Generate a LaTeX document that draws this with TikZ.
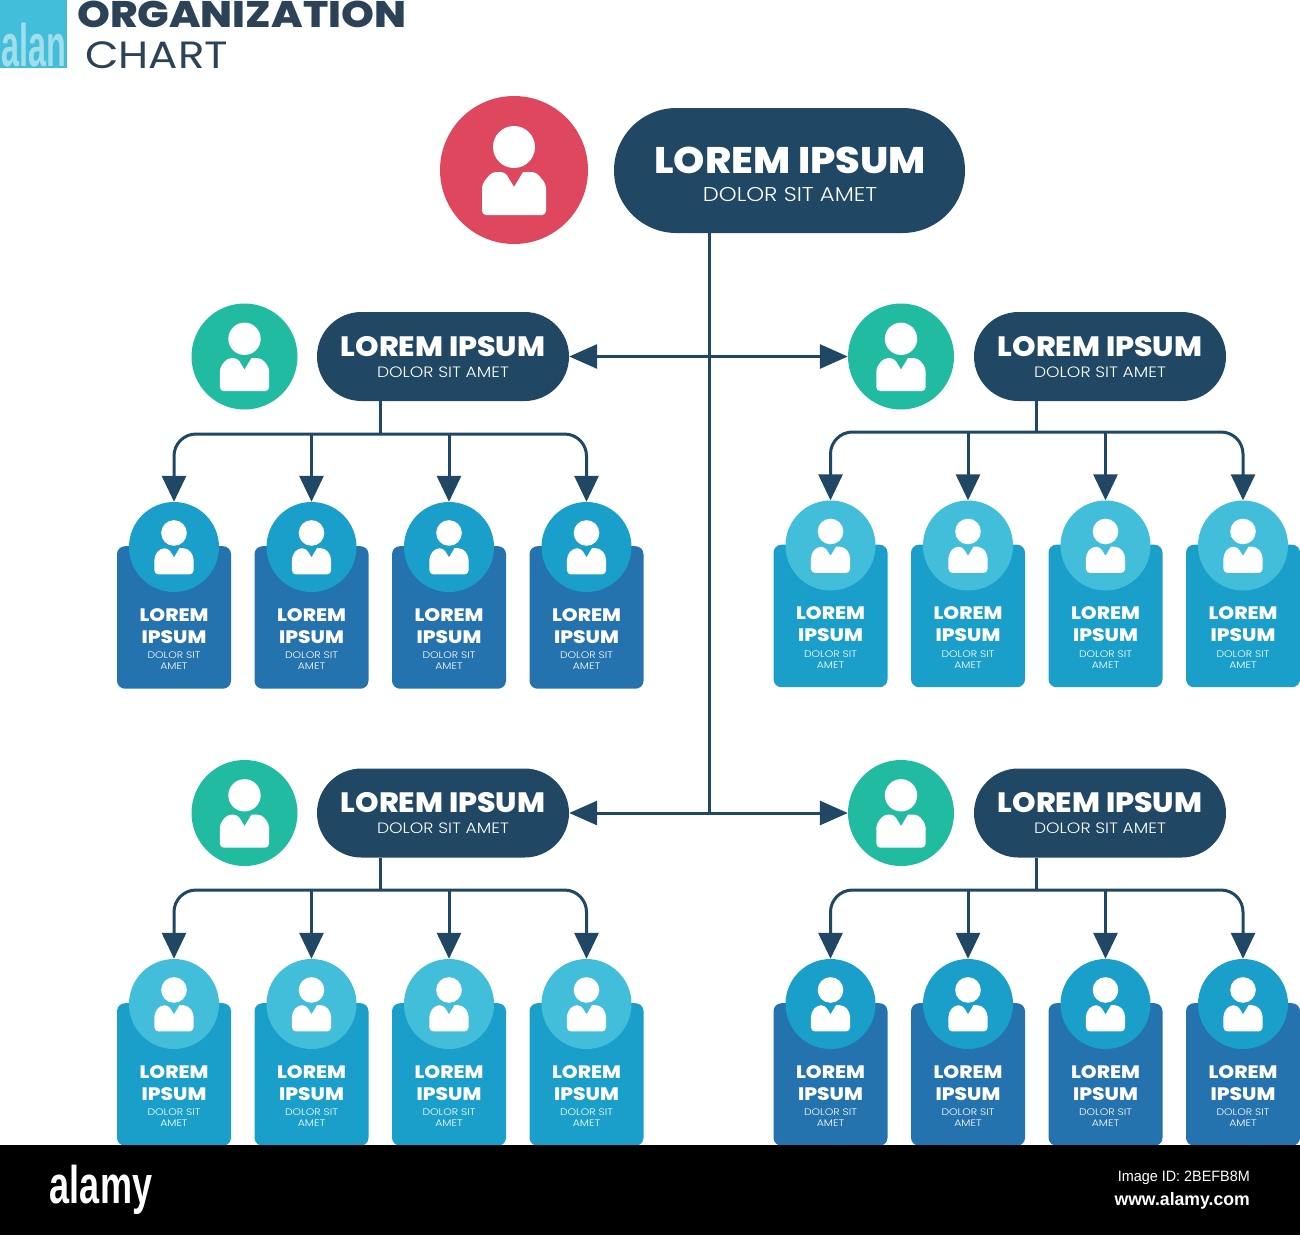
\documentclass[tikz,border=0pt]{standalone}
\usepackage{fontspec}
\setmainfont{Poppins}
\newfontfamily\heavyfont{Poppins ExtraBold}
\newfontfamily\lightfont{Poppins Light}
\newfontfamily\wmfont{Liberation Sans}
\usetikzlibrary{arrows.meta,shapes.misc}
\definecolor{navy}{HTML}{204764}
\definecolor{titlenavy}{HTML}{2B4257}
\definecolor{redc}{HTML}{DF475E}
\definecolor{greenc}{HTML}{20BBA0}
\definecolor{deepblue}{HTML}{2472AE}
\definecolor{midblue}{HTML}{1A9FCA}
\definecolor{lightblue}{HTML}{43BEDA}
\tikzset{
  pill/.style={rounded rectangle,fill=navy,text=white,inner sep=0pt,minimum width=#1},
  disc/.style={circle,inner sep=0pt,minimum size=#1},
  cardbox/.style={rectangle,rounded corners=8pt,inner sep=0pt,minimum width=114pt,minimum height=142.5pt,anchor=north},
  link/.style={draw=navy,line width=3pt},
  tip/.style={-{Triangle[width=24pt,length=26pt]}},
  both/.style={{Triangle[width=24pt,length=28pt]}-{Triangle[width=24pt,length=28pt]}},
  cardhead/.style={text=white,font=\fontsize{18}{22}\heavyfont,align=center,inner sep=0pt,xscale=1.12},
  cardsub/.style={text=white,font=\fontsize{9.5}{11}\lightfont,align=center,inner sep=0pt,xscale=1.14},
}
% icon: #1 centre, #2 scale
\newcommand{\personicon}[2]{%
  \begin{scope}[shift={#1},scale=#2]
    \fill[white] (0,-23) circle (21);
    \fill[white,rounded corners=4pt] (-32,45) -- (-32,14) -- (-22,2) -- (-9,2) [sharp corners] -- (0,17) -- (9,2) [rounded corners=4pt] -- (22,2) -- (32,14) -- (32,45) -- cycle;
  \end{scope}}
% leader group: #1 name, #2 circle x, #3 pill x, #4 y
\newcommand{\leadergroup}[4]{%
  \node[disc=106pt,fill=greenc] (#1c) at (#2,#4) {};
  \personicon{(#2,#4)}{0.77}
  \node[pill=252pt,minimum height=89pt] (#1p) at (#3,#4) {};
  \node[text=white,inner sep=0pt,font=\fontsize{28}{30}\heavyfont,xscale=1.07] (#1t) at (#3,#4-10) {LOREM IPSUM};
  \node[text=white,inner sep=0pt,font=\fontsize{15}{17}\lightfont,xscale=1.146] (#1s) at (#3,#4+15.5) {DOLOR SIT AMET};
}
% card: #1 name, #2 x, #3 card top y, #4 box colour, #5 disc colour
\newcommand{\orgcard}[5]{%
  \node[cardbox,fill=#4] (#1b) at (#2,#3) {};
  \node[disc=90pt,fill=#5] (#1c) at (#2,#3+1) {};
  \personicon{(#2,#3+1)}{0.61}
  \node[cardhead] (#1t) at (#2,#3+80) {LOREM\\[0pt]IPSUM};
  \node[cardsub] (#1s) at (#2,#3+115) {DOLOR SIT\\AMET};
}
\begin{document}
\begin{tikzpicture}[x=1pt,y=-1pt]
\useasboundingbox (0,0) rectangle (1300,1235);
\fill[white] (0,0) rectangle (1300,1235);
% logo
\node[rectangle,fill=lightblue,inner sep=0pt,minimum width=67pt,minimum height=68pt,anchor=north west] (logo) at (0,0) {};
\node[text=white,opacity=.5,inner sep=0pt,font=\wmfont\fontsize{60}{60}\selectfont\bfseries,xscale=.54] (logow) at (33.5,45) {alan};
\node[text=titlenavy,inner sep=0pt,anchor=west,font=\fontsize{37}{40}\heavyfont,xscale=1.13] (title1) at (77,14.5) {ORGANIZATION};
\node[text=titlenavy,inner sep=0pt,anchor=west,font=\fontsize{38}{40}\selectfont,xscale=1.145] (title2) at (85,55) {CHART};
% top
\node[disc=148pt,fill=redc] (topc) at (514,170) {};
\personicon{(514,170)}{1}
\node[pill=351pt,minimum height=125pt] (topp) at (789.5,170.5) {};
\node[text=white,inner sep=0pt,font=\fontsize{37}{40}\heavyfont,xscale=1.075] (topt) at (790,160) {LOREM IPSUM};
\node[text=white,inner sep=0pt,font=\fontsize{20}{22}\lightfont,xscale=1.135] (tops) at (790,194) {DOLOR SIT AMET};
% leaders
\leadergroup{a}{244.5}{443}{356.5}
\leadergroup{b}{901}{1100}{356.5}
\leadergroup{c}{244.5}{443}{813}
\leadergroup{d}{901}{1100}{813}
% trunk
\coordinate (j2) at (709,813);
\draw[link] ([xshift=-80.5pt]topp.south) -- (j2);
\draw[link,both] (ap.east) -- (bc.west);
\draw[link,both] (cp.east) -- (dc.west);
% cards
\foreach \n/\x in {1/174,2/311.5,3/449,4/586.5}{
  \orgcard{a\n}{\x}{546}{deepblue}{midblue}
  \orgcard{c\n}{\x}{1003}{midblue}{lightblue}
}
\foreach \n/\x in {1/830.5,2/968,3/1105.5,4/1243}{
  \orgcard{b\n}{\x}{544.5}{midblue}{lightblue}
  \orgcard{d\n}{\x}{1003}{deepblue}{midblue}
}
% branches
\coordinate (ah) at (380,434);
\coordinate (bh) at (1036,432);
\coordinate (ch) at (380,890);
\coordinate (dh) at (1036,890);
\foreach \g in {a,b,c,d}{
  \draw[link] (\g p.south -| \g h) -- (\g h);
  \foreach \n in {1,4}{
    \draw[link,tip,rounded corners=22pt] (\g h) -| (\g\n c.north);
  }
  \foreach \n in {2,3}{
    \draw[link,tip] (\g h -| \g\n c.north) -- (\g\n c.north);
  }
}
% band
\fill[black] (0,1145) rectangle (1300,1235);
\node[text=white,inner sep=0pt,font=\wmfont\fontsize{53}{53}\selectfont\bfseries,xscale=.68] (alamy) at (101,1190) {alamy};
\node[text=white,inner sep=0pt,anchor=east,font=\wmfont\fontsize{15}{16}\selectfont,xscale=.96] (imgid) at (1250,1178) {Image ID: 2BEFB8M};
\node[text=white,inner sep=0pt,anchor=east,font=\wmfont\fontsize{18}{19}\selectfont\bfseries,xscale=.98] (url) at (1250,1201) {www.alamy.com};
\end{tikzpicture}
\end{document}
